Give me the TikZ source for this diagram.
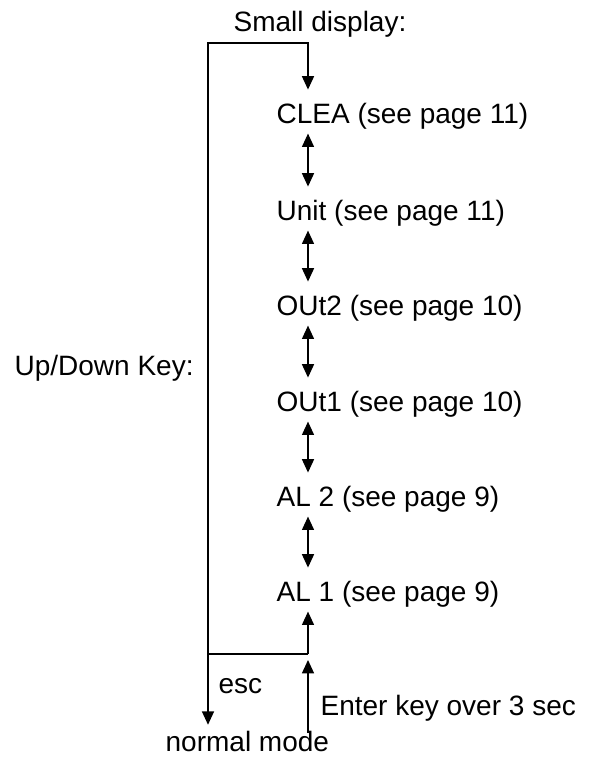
\documentclass[tikz,border=0pt]{standalone}
\usepackage{fontspec}
\setmainfont{Liberation Sans}
\usetikzlibrary{arrows.meta,positioning}

\begin{document}
\begin{tikzpicture}[x=0.03cm,y=-0.03cm,
    line width=1.1pt,
    >={Triangle[length=0.4cm,width=0.36cm]},
    every node/.style={inner sep=0pt,font=\fontsize{23.9}{28}\selectfont},
    lbl/.style={anchor=base west},
    item/.style={anchor=base west,text height=28pt,text depth=8.5pt}]
    \useasboundingbox (0,0) rectangle (591,758);
    \node[lbl] (small) at (233,32) {Small display:};
    \node[item] (clea) at (276,123) {CLEA (see page 11)};
    \node[item] (unit) at (276,220) {Unit (see page 11)};
    \node[item] (outtwo) at (276,315) {OUt2 (see page 10)};
    \node[item] (outone) at (276,411) {OUt1 (see page 10)};
    \node[item] (altwo) at (276,506) {AL 2 (see page 9)};
    \node[item] (alone) at (276,601) {AL 1 (see page 9)};
    \node[lbl] (updown) at (14,375) {Up/Down Key:};
    \node[lbl] (esc) at (218,693) {esc};
    \node[lbl] (enter) at (320,715) {Enter key over 3 sec};
    \node[lbl] (normal) at (165,751) {normal mode};
    \coordinate (tl) at (208,43);
    \coordinate (jn) at (308,654);
    \coordinate (bot) at (308,733);
    \draw[->] (jn) -| (tl) -| (clea.north -| jn);
    \foreach \a/\b in {clea/unit,unit/outtwo,outtwo/outone,outone/altwo,altwo/alone}
        \draw[<->] (\a.south -| jn) -- (\b.north -| jn);
    \draw[->] (jn) -- (alone.south -| jn);
    \draw[->] (bot) -- ([yshift=-0.18cm]jn);
    \draw[->] (jn -| tl) -- ([yshift=0.16cm]normal.north -| tl);
\end{tikzpicture}
\end{document}
